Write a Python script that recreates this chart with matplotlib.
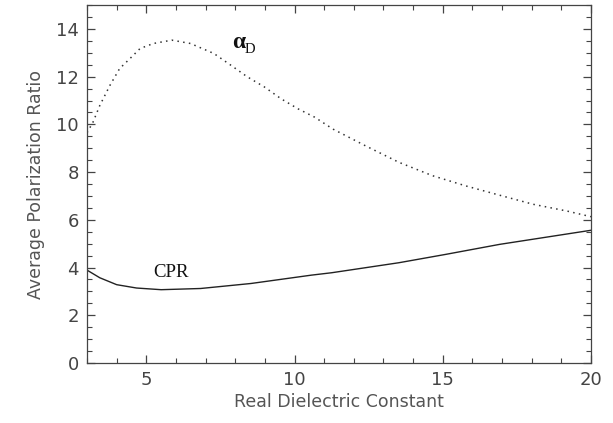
import matplotlib
matplotlib.use('Agg')
import matplotlib.pyplot as plt
from matplotlib.ticker import MultipleLocator

# alpha_D curve (dotted)
alpha_x = [3.0, 3.2, 3.43, 3.77, 4.1, 4.45, 4.79, 5.24, 5.86, 6.49, 7.28, 7.85,
           8.41, 8.98, 9.55, 10.12, 10.68, 11.3, 12.38, 13.52, 14.65, 15.78,
           16.92, 18.05, 19.18, 20.0]
alpha_y = [9.65, 10.09, 10.79, 11.63, 12.34, 12.76, 13.18, 13.39, 13.53, 13.39,
           12.97, 12.48, 11.99, 11.57, 11.07, 10.65, 10.3, 9.8, 9.11, 8.41,
           7.85, 7.42, 7.03, 6.65, 6.37, 6.13]

# CPR curve (solid)
cpr_x = [3.0, 3.43, 4.0, 4.67, 5.5, 6.83, 8.53, 10.57, 11.25, 13.52, 15.1,
         16.92, 20.0]
cpr_y = [3.89, 3.57, 3.28, 3.14, 3.07, 3.12, 3.33, 3.68, 3.78, 4.2, 4.55,
         4.97, 5.56]

x_ticks = [5, 10, 15, 20]
y_ticks = [0, 2, 4, 6, 8, 10, 12, 14]

fig = plt.figure(figsize=(6.13, 4.23), dpi=100)
ax = fig.add_axes([0.142, 0.142, 0.822, 0.846])

ax.plot(alpha_x, alpha_y, color='#333333', linestyle=(0, (1, 2.8)), linewidth=1.1)
ax.plot(cpr_x, cpr_y, color='#222222', linestyle='-', linewidth=1.0)

# curve labels: alpha with a subscript D, and CPR
ax.text(7.88, 13.22, '\u03b1', fontsize=17, family='Liberation Serif',
        fontweight='bold', color='#111111')
ax.text(8.33, 12.98, 'D', fontsize=10.5, family='Liberation Serif',
        color='#111111')
ax.text(5.22, 3.61, 'CPR', fontsize=13.5, family='Liberation Serif', color='#111111')

ax.set_xlim(3, 20)
ax.set_ylim(0, 15)
ax.set_xticks(x_ticks)
ax.set_yticks(y_ticks)
ax.xaxis.set_minor_locator(MultipleLocator(1))
ax.yaxis.set_minor_locator(MultipleLocator(0.5))
ax.tick_params(which='both', direction='in', top=True, right=True,
               color='#444444', labelcolor='#444444', labelsize=13)
ax.tick_params(which='major', length=6, width=0.9, pad=6)
ax.tick_params(which='minor', length=3.5, width=0.8)
for s in ax.spines.values():
    s.set_color('#444444')
    s.set_linewidth(0.9)

ax.set_xlabel('Real Dielectric Constant', fontsize=12.5, color='#555555', labelpad=3)
ax.set_ylabel('Average Polarization Ratio', fontsize=12.5, color='#555555', labelpad=8)

fig.savefig('out.png', dpi=100)
